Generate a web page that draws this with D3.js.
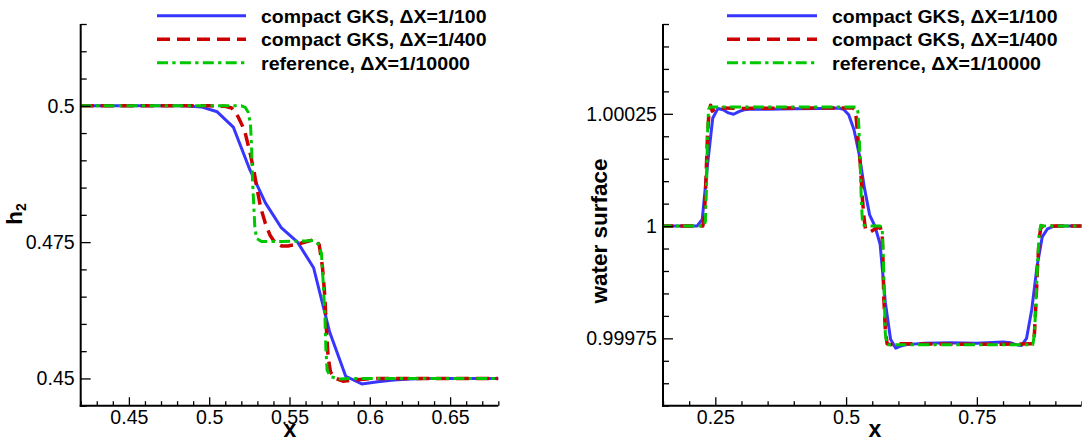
<!DOCTYPE html>
<html><head><meta charset="utf-8">
<script src="https://cdn.jsdelivr.net/npm/d3@7"></script>
<style>
body{margin:0;background:#fff}
svg{display:block}
text{font-family:"Liberation Sans",Arial,Helvetica,sans-serif;fill:#000}
</style>
</head><body>
<svg id="chart" width="1082" height="447"></svg>
<script>
// ---------- legend ----------
const legendLabels = ["compact GKS, \u0394X=1/100", "compact GKS, \u0394X=1/400", "reference, \u0394X=1/10000"];
const seriesColors = ["#3636ff", "#cc0000", "#00c800"];

// ---------- left panel: h2 ----------
const h2XTickValues = [0.45, 0.5, 0.55, 0.6, 0.65];
const h2XTickLabels = ["0.45", "0.5", "0.55", "0.6", "0.65"];
const h2YTickValues = [0.45, 0.475, 0.5];
const h2YTickLabels = ["0.45", "0.475", "0.5"];

const h2BlueX = [0.415,0.425,0.435,0.445,0.455,0.465,0.475,0.485,0.495,0.505,0.515,0.525,0.535,0.545,0.555,0.565,0.575,0.585,0.595,0.605,0.615,0.625,0.635,0.645,0.655,0.665,0.675,0.685];
const h2BlueY = [0.5,0.5,0.5,0.5,0.5,0.5,0.5,0.5,0.4998,0.4989,0.4961,0.4885,0.4822,0.4776,0.4750,0.4703,0.4585,0.4504,0.4490,0.4494,0.4497,0.4499,0.45,0.45,0.45,0.45,0.45,0.45];

const h2RedX = [0.42,0.50,0.51,0.514,0.518,0.522,0.5255,0.528,0.53,0.532,0.535,0.538,0.541,0.545,0.549,0.553,0.557,0.562,0.566,0.5685,0.5705,0.572,0.573,0.574,0.5755,0.578,0.5833,0.5896,0.598,0.605,0.68];
const h2RedY = [0.5,0.5,0.4999,0.4996,0.4980,0.4955,0.4913,0.4878,0.4845,0.4814,0.4784,0.4762,0.4749,0.4743,0.4743,0.4745,0.4748,0.4752,0.4755,0.4745,0.4705,0.4650,0.4590,0.4540,0.4512,0.4501,0.4495,0.4497,0.4499,0.45,0.45];

const h2GreenX = [0.42,0.52,0.5225,0.5243,0.5257,0.5264,0.527,0.5278,0.5284,0.5295,0.5326,0.545,0.56,0.5647,0.5678,0.5699,0.5709,0.572,0.5726,0.5734,0.5755,0.5813,0.59,0.68];
const h2GreenY = [0.5,0.5,0.4997,0.4988,0.4967,0.4924,0.4863,0.4814,0.4778,0.4757,0.4751,0.4751,0.4752,0.4753,0.4747,0.4729,0.4680,0.4619,0.4558,0.4515,0.4503,0.4499,0.45,0.45];

// ---------- right panel: water surface ----------
const wsXTickValues = [0.25, 0.5, 0.75];
const wsXTickLabels = ["0.25", "0.5", "0.75"];
const wsYTickValues = [0.99975, 1, 1.00025];
const wsYTickLabels = ["0.99975", "1", "1.00025"];

const wsBlueX = [0.145,0.215,0.225,0.235,0.245,0.255,0.265,0.275,0.285,0.295,0.305,0.315,0.35,0.40,0.45,0.485,0.495,0.505,0.515,0.525,0.535,0.545,0.555,0.565,0.575,0.585,0.595,0.605,0.615,0.65,0.70,0.75,0.80,0.815,0.825,0.835,0.845,0.855,0.865,0.875,0.885,0.895,0.905,0.955];
const wsBlueY = [1,1,1.000015,1.000135,1.000240,1.000262,1.000259,1.000252,1.000249,1.000255,1.000259,1.000260,1.000260,1.000261,1.000262,1.000263,1.000260,1.000248,1.000215,1.000160,1.000085,1.000025,1.000000,0.999960,0.999830,0.999748,0.999728,0.999733,0.999736,0.999739,0.999740,0.999739,0.999742,0.999740,0.999736,0.999734,0.999750,0.999815,0.999910,0.999976,0.999994,0.999999,1,1];

const wsRedX = [0.145,0.226,0.229,0.232,0.235,0.238,0.241,0.244,0.248,0.256,0.30,0.40,0.50,0.513,0.516,0.519,0.523,0.527,0.531,0.534,0.537,0.546,0.556,0.565,0.569,0.5707,0.572,0.5751,0.5784,0.585,0.60,0.70,0.80,0.857,0.860,0.863,0.866,0.869,0.872,0.876,0.955];
const wsRedY = [1,1,1.000020,1.000100,1.000200,1.000255,1.000269,1.000256,1.000260,1.000263,1.000262,1.000263,1.000263,1.000263,1.000260,1.000245,1.000190,1.000140,1.000065,1.000020,0.999994,0.999987,0.999994,0.999998,0.999983,0.999916,0.999842,0.999768,0.999738,0.999736,0.999738,0.999737,0.999737,0.999738,0.999760,0.999830,0.999910,0.999970,0.999995,1,1];

const wsGreenX = [0.145,0.228,0.231,0.233,0.235,0.237,0.240,0.30,0.40,0.52,0.5225,0.5245,0.527,0.529,0.531,0.534,0.54,0.565,0.569,0.571,0.573,0.575,0.578,0.70,0.857,0.860,0.863,0.866,0.869,0.872,0.876,0.955];
const wsGreenY = [1,1,1.000010,1.000080,1.000200,1.000260,1.000265,1.000265,1.000265,1.000265,1.000255,1.000220,1.000140,1.000060,1.000015,1.000002,1,1,0.999995,0.999940,0.999840,0.999760,0.999736,0.999736,0.999736,0.999760,0.999830,0.999920,0.999980,1.000002,1,1];

const zip = (xs, ys) => xs.map((x, i) => ({x, y: ys[i]}));

const panels = [
  {
    id: "L", left: 80.7, right: 498.3, top: 24, bottom: 405.7,
    xDomain: [0.42, 0.68], yDomain: [0.445, 0.515],
    xMajor: h2XTickValues, xLabels: h2XTickLabels, xMinorStep: 0.01,
    yMajor: h2YTickValues, yLabels: h2YTickLabels, yMinorStep: 0.005,
    series: [zip(h2BlueX, h2BlueY), zip(h2RedX, h2RedY), zip(h2GreenX, h2GreenY)],
    yTitle: "h", ySub: "2", yTitleX: 22, yTitleY: 214,
    xTitleX: 290,
    legLine: [157, 246], legText: 261
  },
  {
    id: "R", left: 663, right: 1081.5, top: 24, bottom: 405.7,
    xDomain: [0.15, 0.95], yDomain: [0.9996, 1.00045],
    xMajor: wsXTickValues, xLabels: wsXTickLabels, xMinorStep: 0.05,
    yMajor: wsYTickValues, yLabels: wsYTickLabels, yMinorStep: 0.00005,
    series: [zip(wsBlueX, wsBlueY), zip(wsRedX, wsRedY), zip(wsGreenX, wsGreenY)],
    yTitle: "water surface", ySub: null, yTitleX: 607, yTitleY: 231,
    xTitleX: 875,
    legLine: [727, 817], legText: 832
  }
];

const styles = [
  {w: 3, dash: null},
  {w: 3.5, dash: "13,7"},
  {w: 3, dash: "11,4.3,3.3,4.3"}
];

const svg = d3.select("#chart");

// calibrate tick font so that "0.475" is ~49px wide, as in the reference
const probe = svg.append("text").attr("font-size", "20px").text("0.475");
const probeW = probe.node().getComputedTextLength() || 48.8;
probe.remove();
const tickFontPx = Math.max(18, Math.min(23, 20 * 49 / probeW));

const legendTargets = [225.5, 225.5, 209];

panels.forEach(p => {
  const x = d3.scaleLinear().domain(p.xDomain).range([p.left, p.right]);
  const y = d3.scaleLinear().domain(p.yDomain).range([p.bottom, p.top]);

  const near = (a, b) => Math.abs(a - b) < 1e-9;
  const xMinor = d3.range(Math.round((p.xDomain[1] - p.xDomain[0]) / p.xMinorStep) + 1)
    .map(i => +(p.xDomain[0] + i * p.xMinorStep).toFixed(6))
    .filter(v => !p.xMajor.some(m => near(m, v)));
  const yMinor = d3.range(Math.round((p.yDomain[1] - p.yDomain[0]) / p.yMinorStep) + 1)
    .map(i => +(p.yDomain[0] + i * p.yMinorStep).toFixed(7))
    .filter(v => !p.yMajor.some(m => near(m, v)));

  const g = svg.append("g");
  const clipId = "clip" + p.id;
  svg.append("clipPath").attr("id", clipId).append("rect")
    .attr("x", p.left).attr("y", p.top - 5).attr("width", p.right - p.left).attr("height", p.bottom - p.top + 5);

  // series
  const line = d3.line().x(d => x(d.x)).y(d => y(d.y));
  const lg = g.append("g").attr("clip-path", `url(#${clipId})`);
  p.series.forEach((s, i) => {
    lg.append("path").datum(s).attr("d", line)
      .attr("fill", "none").attr("stroke", seriesColors[i])
      .attr("stroke-width", styles[i].w)
      .attr("stroke-dasharray", styles[i].dash)
      .attr("stroke-linejoin", "round").attr("stroke-linecap", "butt");
  });

  // axes
  const xAxis = d3.axisBottom(x).tickValues(p.xMajor).tickSizeInner(-8.5).tickSizeOuter(0).tickPadding(5)
    .tickFormat((d, i) => p.xLabels[i]);
  const xAxisMinor = d3.axisBottom(x).tickValues(xMinor).tickSizeInner(-4.5).tickSizeOuter(0).tickFormat("");
  const yAxis = d3.axisLeft(y).tickValues(p.yMajor).tickSizeInner(-10).tickSizeOuter(0).tickPadding(6)
    .tickFormat((d, i) => p.yLabels[i]);
  const yAxisMinor = d3.axisLeft(y).tickValues(yMinor).tickSizeInner(-6).tickSizeOuter(0).tickFormat("");

  const gx = g.append("g").attr("transform", `translate(0,${p.bottom})`).call(xAxis);
  const gxm = g.append("g").attr("transform", `translate(0,${p.bottom})`).call(xAxisMinor);
  const gy = g.append("g").attr("transform", `translate(${p.left},0)`).call(yAxis);
  const gym = g.append("g").attr("transform", `translate(${p.left},0)`).call(yAxisMinor);
  gxm.select(".domain").remove();
  gym.select(".domain").remove();
  [gx, gy].forEach(a => a.select(".domain").attr("stroke", "#000").attr("stroke-width", 2));
  [gx, gxm, gy, gym].forEach(a => a.selectAll(".tick line").attr("stroke", "#000").attr("stroke-width", 1.3));
  [gx, gy].forEach(a => a.selectAll(".tick text").attr("font-size", tickFontPx + "px")
    .attr("font-family", "'Liberation Sans', Arial, sans-serif").attr("fill", "#000"));
  gx.selectAll(".tick text").attr("dy", "0.66em");
  gx.select(".domain").attr("d", `M${p.left - 1},0H${p.right}`);
  gy.select(".domain").attr("d", `M0,${p.top}V${p.bottom + 1}`);

  // titles
  g.append("text").attr("x", p.xTitleX).attr("y", 437).attr("text-anchor", "middle")
    .attr("font-size", "23px").attr("font-weight", "bold").text("x");
  const yt = g.append("text").attr("transform", `translate(${p.yTitleX},${p.yTitleY}) rotate(-90)`)
    .attr("text-anchor", "middle").attr("font-size", "22.5px").attr("font-weight", "bold");
  yt.append("tspan").text(p.yTitle);
  if (p.ySub) yt.append("tspan").attr("font-size", "14px").attr("dy", "4").text(p.ySub);

  // legend
  const rows = [15.7, 39.3, 62.7];
  rows.forEach((ry, i) => {
    g.append("line").attr("x1", p.legLine[0]).attr("x2", p.legLine[1]).attr("y1", ry).attr("y2", ry)
      .attr("stroke", seriesColors[i]).attr("stroke-width", styles[i].w)
      .attr("stroke-dasharray", styles[i].dash);
    const t = g.append("text").attr("x", p.legText).attr("y", ry).attr("dy", "0.36em")
      .attr("font-size", "19px").attr("font-weight", "bold").text(legendLabels[i]);
    const w = t.node().getComputedTextLength();
    if (w && Math.abs(w - legendTargets[i]) > 1) {
      t.attr("textLength", legendTargets[i]).attr("lengthAdjust", "spacingAndGlyphs");
    }
  });
});
</script>
</body></html>
